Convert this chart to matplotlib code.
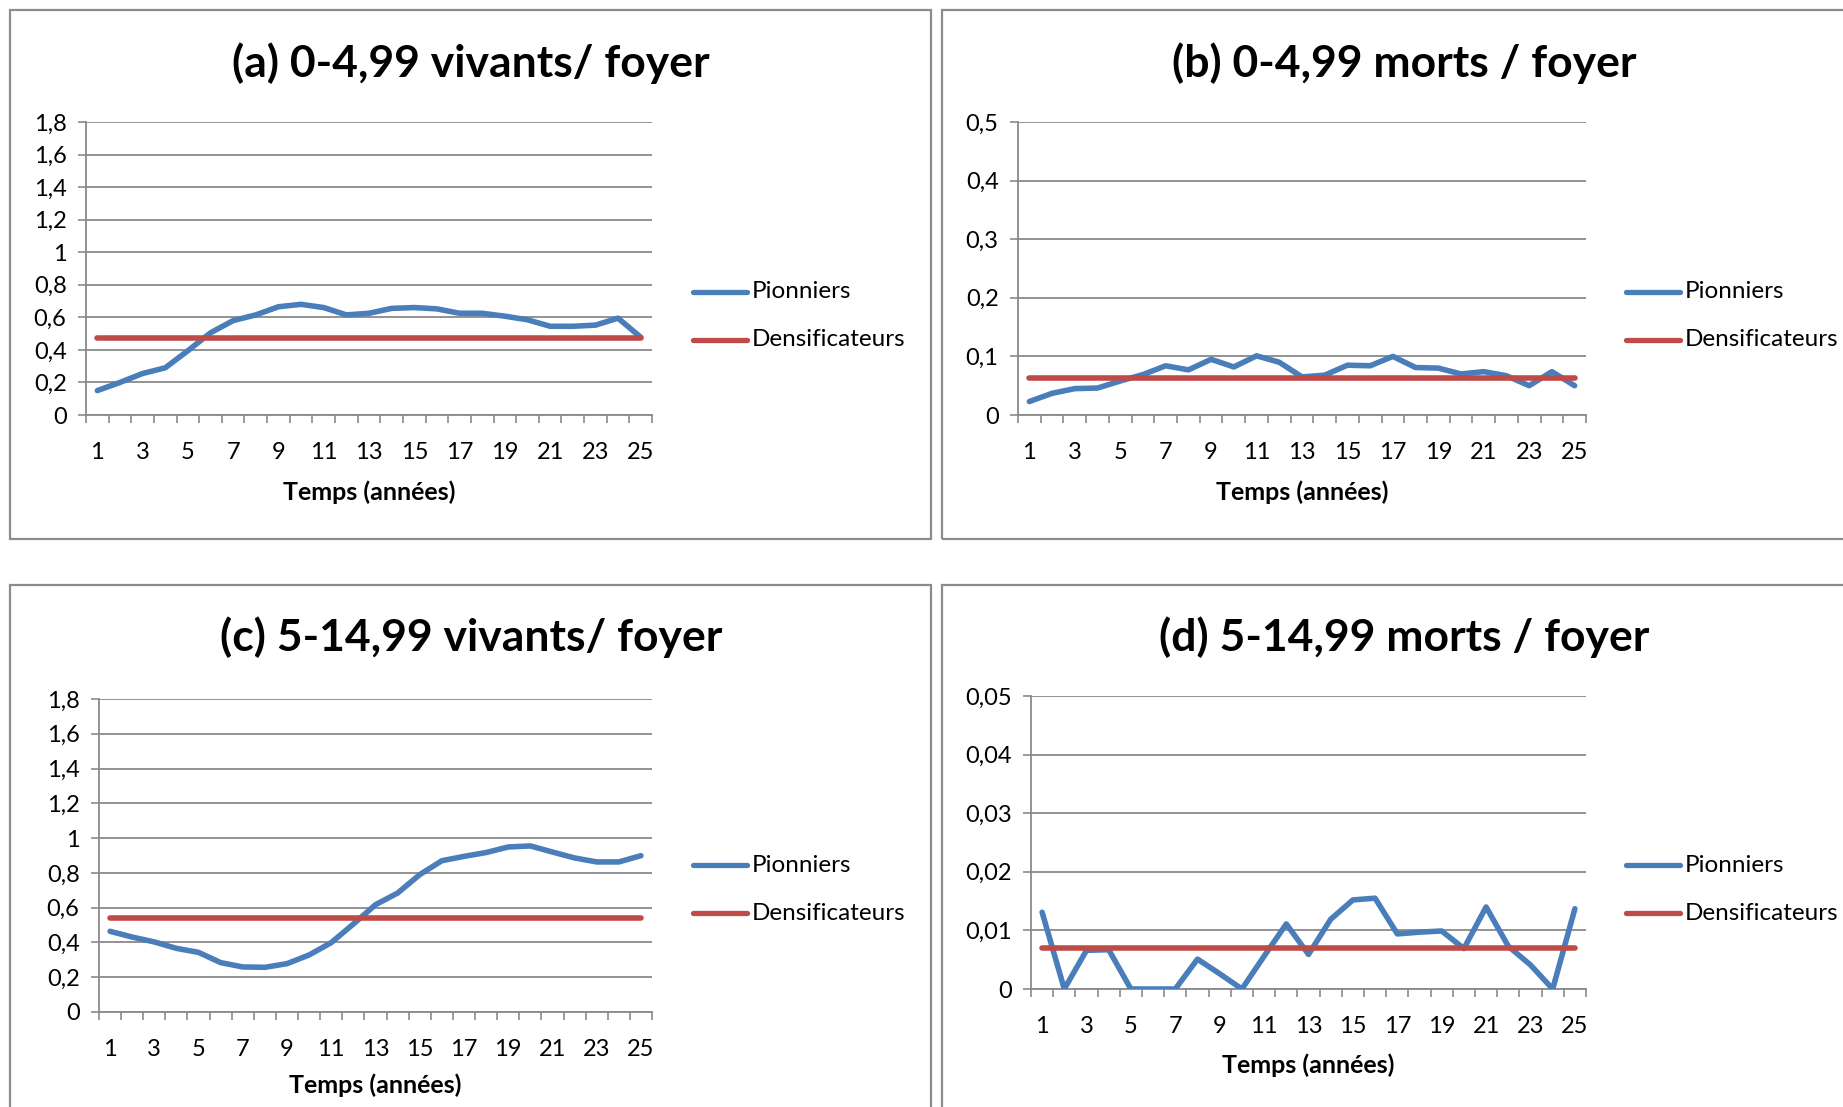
import matplotlib
matplotlib.use("Agg")
import matplotlib.pyplot as plt
from matplotlib.patches import Rectangle

W, H = 1843, 1107

plt.rcParams["font.family"] = ["Lato", "DejaVu Sans"]

years = list(range(1, 26))
year_labels = [str(y) for y in range(1, 26, 2)]

# (a) 0-4,99 vivants / foyer
a_pionniers = [0.15, 0.20, 0.255, 0.29, 0.395, 0.505, 0.58, 0.615, 0.665, 0.68,
               0.66, 0.615, 0.625, 0.655, 0.66, 0.652, 0.625, 0.625, 0.607, 0.585,
               0.545, 0.545, 0.552, 0.595, 0.478]
a_densif = 0.474

# (b) 0-4,99 morts / foyer
b_pionniers = [0.023, 0.037, 0.045, 0.046, 0.058, 0.069, 0.084, 0.077, 0.095, 0.082,
               0.101, 0.090, 0.065, 0.068, 0.085, 0.084, 0.100, 0.081, 0.080, 0.070,
               0.074, 0.067, 0.050, 0.074, 0.050]
b_densif = 0.063

# (c) 5-14,99 vivants / foyer
c_pionniers = [0.464, 0.431, 0.403, 0.366, 0.343, 0.284, 0.259, 0.257, 0.278, 0.328,
               0.399, 0.506, 0.617, 0.684, 0.790, 0.870, 0.895, 0.917, 0.949, 0.955,
               0.920, 0.886, 0.863, 0.863, 0.899]
c_densif = 0.543

# (d) 5-14,99 morts / foyer
d_pionniers = [0.0131, 0.0, 0.0066, 0.0067, 0.0, 0.0, 0.0, 0.0051, 0.0026, 0.0,
               0.0056, 0.0111, 0.0059, 0.0119, 0.0152, 0.0155, 0.0094, 0.0097, 0.0099, 0.0069,
               0.0140, 0.0073, 0.0041, 0.0, 0.0137]
d_densif = 0.0070

ticks_18 = [0, 0.2, 0.4, 0.6, 0.8, 1.0, 1.2, 1.4, 1.6, 1.8]
labels_18 = ["0", "0,2", "0,4", "0,6", "0,8", "1", "1,2", "1,4", "1,6", "1,8"]
ticks_05 = [0, 0.1, 0.2, 0.3, 0.4, 0.5]
labels_05 = ["0", "0,1", "0,2", "0,3", "0,4", "0,5"]
ticks_005 = [0, 0.01, 0.02, 0.03, 0.04, 0.05]
labels_005 = ["0", "0,01", "0,02", "0,03", "0,04", "0,05"]

BLUE = "#4a7ebb"
RED = "#be4b48"
GRID = "#8a8a8a"
BOX = "#8c8c8c"

fig = plt.figure(figsize=(W / 100, H / 100), dpi=100)


def fx(x):
    return x / W


def fy(y):
    return 1 - y / H


def box(x0, y0, x1, y1):
    fig.add_artist(Rectangle((fx(x0), fy(y1)), (x1 - x0) / W, (y1 - y0) / H,
                             transform=fig.transFigure, fill=False,
                             ec=BOX, lw=1.6))


def panel(rect, title, title_xy, pion, densif, yticks, ylabels, legend_xy, xlab_dy):
    x0, y0, x1, y1 = rect
    ax = fig.add_axes([fx(x0), fy(y1), (x1 - x0) / W, (y1 - y0) / H])
    ax.plot(years, pion, color=BLUE, lw=4.0, solid_capstyle="round",
            solid_joinstyle="round", zorder=3)
    ax.plot(years, [densif] * len(years), color=RED, lw=4.0,
            solid_capstyle="round", zorder=3)
    ax.set_xlim(0.5, 25.5)
    ax.set_ylim(yticks[0], yticks[-1])
    ax.set_yticks(yticks)
    ax.set_yticklabels(ylabels)
    ax.set_xticks(range(1, 26, 2))
    ax.set_xticklabels(year_labels)
    ax.set_xticks([i + 0.5 for i in range(0, 26)], minor=True)
    ax.tick_params(axis="x", which="major", length=0, pad=19.5, labelsize=17)
    ax.tick_params(axis="x", which="minor", length=6, width=1.2, color=GRID,
                   direction="out")
    ax.tick_params(axis="y", length=6, width=1.2, color=GRID, direction="out",
                   pad=8, labelsize=17)
    ax.yaxis.grid(True, color=GRID, lw=1.3)
    ax.set_axisbelow(True)
    for s in ["top", "right"]:
        ax.spines[s].set_visible(False)
    for s in ["left", "bottom"]:
        ax.spines[s].set_color(GRID)
        ax.spines[s].set_linewidth(1.3)
    ax.patch.set_alpha(0)

    fig.text(fx(title_xy[0]), fy(title_xy[1]), title, ha="center", va="center",
             fontsize=32, fontweight="bold")
    fig.text(fx((x0 + x1) / 2), fy(y1 + xlab_dy), "Temps (années)", ha="center",
             va="center", fontsize=18, fontweight="bold")

    lx, ly = legend_xy
    for i, (name, col) in enumerate([("Pionniers", BLUE), ("Densificateurs", RED)]):
        yy = ly + i * 48
        fig.add_artist(plt.Line2D([fx(lx), fx(lx + 54)], [fy(yy), fy(yy)],
                                  transform=fig.transFigure, color=col, lw=3.8,
                                  solid_capstyle="round"))
        fig.text(fx(lx + 59), fy(yy), name, ha="left", va="center", fontsize=17.5)
    return ax


box(10, 10, 931, 539)
box(942, 10, 1860, 539)
box(10, 585, 931, 1120)
box(942, 585, 1860, 1120)

panel((86, 122, 652, 415), "(a) 0-4,99 vivants/ foyer", (471, 63),
      a_pionniers, a_densif, ticks_18, labels_18, (693, 292), 77)
panel((1018, 122, 1586, 415), "(b) 0-4,99 morts / foyer", (1404, 63),
      b_pionniers, b_densif, ticks_05, labels_05, (1626, 292), 77)
panel((99, 699, 652, 1012), "(c) 5-14,99 vivants/ foyer", (471, 637),
      c_pionniers, c_densif, ticks_18, labels_18, (693, 865), 73)
panel((1031, 696, 1586, 989), "(d) 5-14,99 morts / foyer", (1404, 637),
      d_pionniers, d_densif, ticks_005, labels_005, (1626, 865), 76)

fig.savefig("out.png", dpi=100)
